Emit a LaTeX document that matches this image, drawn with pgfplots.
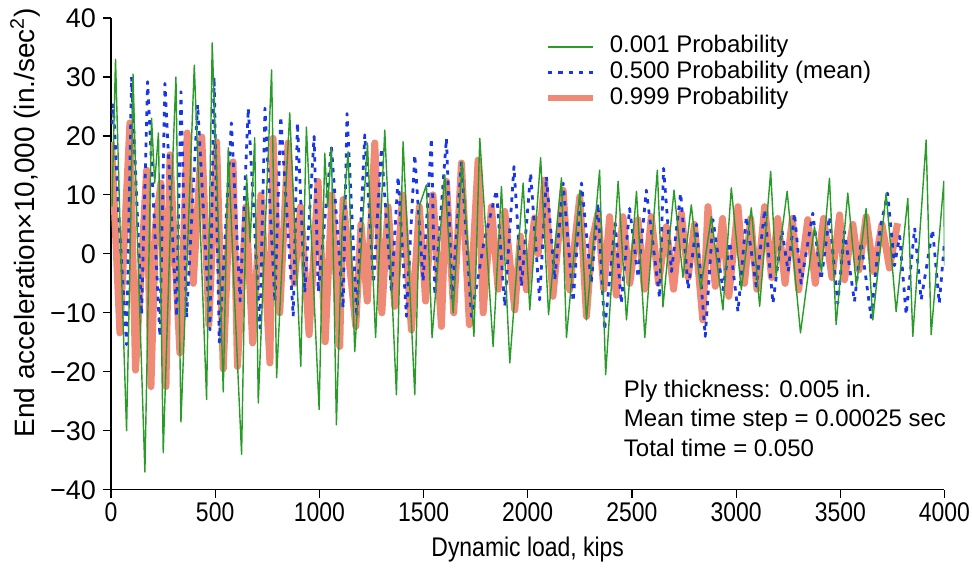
\documentclass[border=0pt]{standalone}
\usepackage{fontspec}
\setmainfont{Liberation Sans}
\newfontfamily\narrowfont[FakeStretch=0.85]{Liberation Sans}
\usepackage{pgfplots}
\pgfplotsset{compat=1.18}

\definecolor{pgreen}{RGB}{40,155,40}
\definecolor{pblue}{RGB}{25,55,230}
\definecolor{psalmon}{RGB}{238,138,118}

\begin{document}
\begin{tikzpicture}
\begin{axis}[
  name=ax,
  scale only axis,
  width=417pt, height=236pt,
  xmin=0, xmax=4000, ymin=-40, ymax=40,
  axis x line=bottom, axis y line=left,
  axis line style={-, line width=0.6pt},
  tick align=outside, major tick length=4pt,
  tick style={black, line width=0.6pt},
  xtick={0,500,...,4000},
  xticklabels={0,500,1000,1500,2000,2500,3000,3500,4000},
  ytick={-40,-30,...,40},
  yticklabels={−40,−30,−20,−10,0,10,20,30,40},
  x tick label style={font=\fontsize{13.5}{15}\narrowfont, inner sep=1pt, yshift=-1.5pt},
  y tick label style={font=\fontsize{13.5}{15}\selectfont},
  xlabel={Dynamic load, kips},
  ylabel={End acceleration×10,000 (in./sec\textsuperscript{2})},
  xlabel style={font=\fontsize{13.5}{15}\narrowfont, at={(axis description cs:0.5,0)}, anchor=center, yshift=-30pt},
  ylabel style={font=\fontsize{14}{16}\selectfont, at={(axis description cs:-0.103,0.566)}, anchor=center},
  legend style={draw=none, fill=none, at={(rel axis cs:0.52,0.965)}, anchor=north west,
    font=\fontsize{12}{12}\selectfont, row sep=0.9pt, inner sep=0pt,
    nodes={inner sep=0pt, text height=9pt, text depth=3pt}},
  legend cell align=left,
  legend image code/.code={\draw[#1] (0pt,0pt) -- (22.5pt,0pt);},
  legend style={column sep=7pt},
  line join=round,
]
\addlegendimage{pgreen, line width=0.7pt}
\addlegendentry{0.001 Probability}
\addlegendimage{pblue, line width=1.4pt, dash pattern=on 2.2pt off 3pt}
\addlegendentry{0.500 Probability (mean)}
\addlegendimage{psalmon, line width=3pt}
\addlegendentry{0.999 Probability}

% 0.999 probability
\addplot[psalmon, line width=3.5pt, forget plot] coordinates {
(3,19) (43,-13.4) (91,22.2) (118,-19.7) (150,0) (171,14.2) (192,-22.5) (215,5) (240,12)
(264,-22.5) (283,16.8) (331,-16.8) (366,20.5) (395,-5) (436,19.8) (470,-12) (507,19)
(539,-19.5) (571,10) (586,15.6) (607,-19.1) (648,8) (680,-15.1) (720,10) (763,-18.5)
(778,19.6) (810,-10) (850,18.8) (880,-5) (910,8) (951,-13.7) (994,12.3) (1028,-14.9)
(1060,10) (1098,-15.7) (1114,9.2) (1175,-12.3) (1200,5) (1230,-8) (1266,18.8) (1300,-10)
(1330,8) (1362,-8.9) (1400,10) (1442,-12.9) (1480,8) (1510,-8) (1545,10) (1586,-12.3)
(1610,12.3) (1645,-10) (1682,15.4) (1720,-12) (1762,15.9) (1786,-10) (1826,8) (1858,-6)
(1890,7.2) (1938,-9.5) (1965,3) (1994,-6.1) (2033,6.1) (2050,0) (2081,12.5) (2121,-7.2)
(2170,10.8) (2201,-6.1) (2250,9.7) (2282,-10.6) (2310,2.4) (2337,6.9) (2365,-6) (2393,6.3)
(2425,-7) (2457,6.3) (2490,-5) (2529,5.8) (2560,-6) (2593,6.3) (2628,-5) (2665,4.6)
(2700,-6) (2737,6.9) (2770,-4) (2800,5) (2840,-11.2) (2865,8) (2900,-5.5) (2935,6)
(2965,-7.2) (3009,8) (3040,-5) (3070,6) (3100,-6) (3137,8) (3170,-4) (3200,6) (3235,-5)
(3270,6) (3300,-6.1) (3344,5.8) (3380,-5) (3420,6) (3460,-4) (3497,6.6) (3520,-4.4)
(3560,5) (3590,-2.7) (3624,6.3) (3660,-3) (3700,5) (3736,-2.4) (3775,5.2)
};

% 0.500 probability (mean)
\addplot[pblue, line width=1.4pt, dash pattern=on 2.2pt off 3pt, forget plot] coordinates {
(5,22) (11,25.5) (40,5) (75,-15.4) (99,30) (147,-10.3) (176,29.2) (235,-14) (259,28.9)
(315,-10.6) (336,27.5) (363,-10.8) (416,25.3) (475,-12.9) (495,30) (520,-15) (578,22.2)
(620,-8) (659,24.7) (715,-12.6) (739,24.7) (787,-8.1) (815,23.3) (875,-10.6) (895,22.2)
(930,-6.6) (975,19.9) (995,-6.4) (1058,18.2) (1114,-9.2) (1133,23.8) (1180,-10.7)
(1218,20.2) (1260,-5) (1298,17.9) (1346,-6.4) (1378,13.1) (1418,-10.6) (1458,16.8)
(1498,-4.7) (1538,19.6) (1554,-7) (1610,19.6) (1637,-7.5) (1682,15.6) (1730,-10.6)
(1790,2) (1850,10.8) (1890,-8.9) (1934,14.8) (1970,-5.5) (2014,13.7) (2057,-7.8)
(2090,13.1) (2130,-4.4) (2170,12) (2218,-8.1) (2258,12) (2305,-5) (2337,8.6) (2369,-12.9)
(2420,5.2) (2449,-8.4) (2489,7.7) (2530,-4) (2569,10.8) (2633,-7.5) (2652,14.5) (2690,-3)
(2734,10.3) (2770,-6) (2810,5) (2852,-14) (2889,5.8) (2937,-6.1) (2970,2) (3009,-9.8)
(3049,6.3) (3097,-5.5) (3137,7.5) (3177,-8.4) (3220,4) (3250,-3) (3280,6.9) (3312,-5)
(3368,6.9) (3408,-4.4) (3448,6.3) (3488,-8.4) (3520,3.8) (3568,-8.1) (3600,2) (3648,-10.8)
(3690,4) (3727,10.3) (3760,-2) (3785,3) (3816,-10.3) (3857,4.4) (3888,-7.8) (3943,4.1)
(3975,-8.4) (4000,2)
};

% 0.001 probability
\addplot[pgreen, line width=0.7pt, forget plot] coordinates {
(5,8) (22,33) (45,3) (75,-30) (95,5) (106,30.5) (125,5) (163,-37) (195,23) (210,12)
(228,20.5) (251,-33.7) (290,10) (312,30) (336,-28.5) (375,8) (400,32) (459,-24.7)
(486,35.8) (520,0) (539,-23.4) (563,18) (590,-5) (627,-34) (651,13.4) (668,2) (690,19.7)
(707,-25.3) (771,31.2) (795,-21) (830,5) (858,23.9) (911,-19.1) (938,21.5) (999,-26.4)
(1026,17.1) (1040,8) (1058,18.1) (1082,-29) (1110,5) (1138,17.3) (1170,-16.6) (1231,18.8)
(1270,-14.2) (1314,21) (1370,-23.9) (1402,19) (1458,-23.9) (1482,8.3) (1514,11.7)
(1541,-14.2) (1602,13.4) (1642,-10) (1685,15.6) (1742,-14) (1770,19.6) (1834,-15.7)
(1874,11.4) (1914,-18.5) (1978,12) (2010,-9.5) (2062,16.3) (2100,-10.3) (2162,12.9)
(2186,-14.2) (2250,10.8) (2282,-11.2) (2345,14.2) (2374,-20.5) (2434,12.3) (2474,-11.2)
(2522,10.6) (2562,-14.2) (2622,14.2) (2649,-9) (2702,10.8) (2745,-4) (2785,8.3) (2830,-6)
(2881,6.3) (2937,-9.5) (2977,11.2) (3025,-6.1) (3073,7.8) (3113,-8.9) (3166,14) (3192,-3.8)
(3245,10.6) (3309,-13.4) (3376,4.6) (3410,-3) (3448,12.8) (3480,-12) (3536,10.3)
(3577,-5.5) (3624,7.7) (3656,-11.2) (3720,10.3) (3768,-9.8) (3824,9.4) (3848,-14)
(3912,19.3) (3936,-13.7) (3997,12.3) (4000,-2)
};

\node[anchor=north west, inner sep=0pt, align=left, font=\fontsize{12}{14.75}\selectfont]
  at (axis cs:2460,-21.3) {Ply thickness: 0.005 in.\\Mean time step = 0.00025 sec\\Total time = 0.050};
\end{axis}
\path (ax.south west) ++(-55.5pt,-34pt) rectangle ++(486pt,279pt);
\end{tikzpicture}
\end{document}
